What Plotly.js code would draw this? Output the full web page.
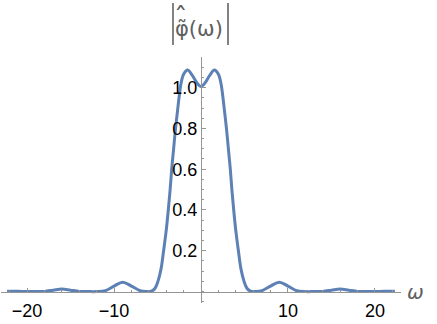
<!DOCTYPE html>
<html>
<head>
<meta charset="utf-8">
<script src="https://cdn.plot.ly/plotly-3.0.1.min.js"></script>
<style>html,body{margin:0;padding:0;background:#fff;}#chart{width:437px;height:324px;}</style>
</head>
<body>
<div id="chart"></div>
<script>
// ω values (sample points)
var omega = [-22.3,-21,-20,-19,-18,-17,-16,-15,-14,-13,-12,-11,-10,-9,-8,-7,-6.3,-5.7,-5.3,-4.95,-4.6,-4.3,-4.0,-3.76,-3.55,-3.37,-3.15,-2.95,-2.69,-2.5,-2.3,-2.0,-1.55,-1.0,-0.5,0,
             0.5,1.0,1.55,2.0,2.3,2.5,2.69,2.95,3.15,3.37,3.55,3.76,4.0,4.3,4.6,4.95,5.3,5.7,6.3,7,8,9,10,11,12,13,14,15,16,17,18,19,20,21,22.3];
// |phi-hat-tilde(ω)| values
var magnitude = [0.002,0.001,0.0,0.0,0.001,0.007,0.013,0.007,0.001,0.0,0.0,0.004,0.027,0.046,0.027,0.004,0.0,0.002,0.015,0.05,0.11,0.20,0.30,0.40,0.50,0.60,0.70,0.79,0.89,0.96,1.02,1.065,1.086,1.06,1.025,1.005,
                 1.025,1.06,1.086,1.065,1.02,0.96,0.89,0.79,0.70,0.60,0.50,0.40,0.30,0.20,0.11,0.05,0.015,0.002,0.0,0.004,0.027,0.046,0.027,0.004,0.0,0.0,0.001,0.007,0.013,0.007,0.001,0.0,0.0,0.001,0.002];
var xTickVals = [-20,-10,10,20];
var yTickVals = [0.2,0.4,0.6,0.8,1.0];
var yTickText = ["0.2","0.4","0.6","0.8","1.0"];

var xRange = [-23.0, 23.0];
var yRange = [-0.056, 1.15];
var axisGray = "rgb(150,150,150)";
var labelGray = "rgb(95,95,95)";

// pixel -> paper helpers (for decorations only)
var M = {l: 1, r: 36, t: 57, b: 21};
var W = 437 - M.l - M.r, H = 324 - M.t - M.b;
function px(x) { return (x - M.l) / W; }
function py(y) { return (324 - M.b - y) / H; }

var trace = {
  x: omega, y: magnitude, type: "scatter", mode: "lines",
  line: {color: "#5E81B5", width: 3, shape: "spline", smoothing: 1.0},
  hoverinfo: "skip"
};

var layout = {
  width: 437, height: 324,
  margin: M,
  paper_bgcolor: "#fff", plot_bgcolor: "#fff",
  showlegend: false,
  font: {family: "Liberation Sans, Arial, sans-serif", size: 18, color: "#000"},
  xaxis: {
    range: xRange, anchor: "free",
    position: (0 - yRange[0]) / (yRange[1] - yRange[0]),
    showgrid: false, zeroline: false,
    showline: true, linecolor: axisGray, linewidth: 1,
    tickmode: "array", tickvals: xTickVals,
    ticks: "inside", ticklen: 4, tickcolor: axisGray, tickwidth: 1,
    ticklabelstandoff: 3,
    tickfont: {size: 18, color: "#000"},
    minor: {dtick: 2, tick0: 0, ticks: "inside", ticklen: 2, tickcolor: axisGray, showgrid: false}
  },
  yaxis: {
    range: yRange, anchor: "free",
    position: (0 - xRange[0]) / (xRange[1] - xRange[0]),
    showgrid: false, zeroline: false,
    showline: true, linecolor: axisGray, linewidth: 1,
    tickmode: "array", tickvals: yTickVals, ticktext: yTickText,
    ticks: "inside", ticklen: 4, tickcolor: axisGray, tickwidth: 1,
    tickfont: {size: 18, color: "#000"},
    minor: {dtick: 0.05, tick0: 0, ticks: "inside", ticklen: 2, tickcolor: axisGray, showgrid: false}
  },
  shapes: [
    {type: "line", xref: "paper", yref: "paper", x0: px(173), x1: px(173), y0: py(3), y1: py(45), line: {color: "rgb(130,130,130)", width: 2}},
    {type: "line", xref: "paper", yref: "paper", x0: px(228), x1: px(228), y0: py(3), y1: py(45), line: {color: "rgb(130,130,130)", width: 2}}
  ],
  annotations: [
    {text: "φ\u0303(ω)", xref: "paper", yref: "paper", x: px(199), y: py(29), xanchor: "center", yanchor: "middle",
     showarrow: false, font: {family: "DejaVu Sans", size: 21, color: labelGray}},
    {text: "\u02C6", xref: "paper", yref: "paper", x: px(181), y: py(0), xanchor: "center", yanchor: "top",
     height: 12, valign: "top",
     showarrow: false, font: {family: "DejaVu Sans", size: 27, color: labelGray}},
    {text: "ω", xref: "paper", yref: "y", x: px(405), y: 0, xanchor: "left", yanchor: "middle",
     showarrow: false, font: {family: "DejaVu Sans", size: 20, style: "italic", color: labelGray}}
  ]
};

Plotly.newPlot("chart", [trace], layout, {displayModeBar: false, staticPlot: true});
</script>
</body>
</html>
